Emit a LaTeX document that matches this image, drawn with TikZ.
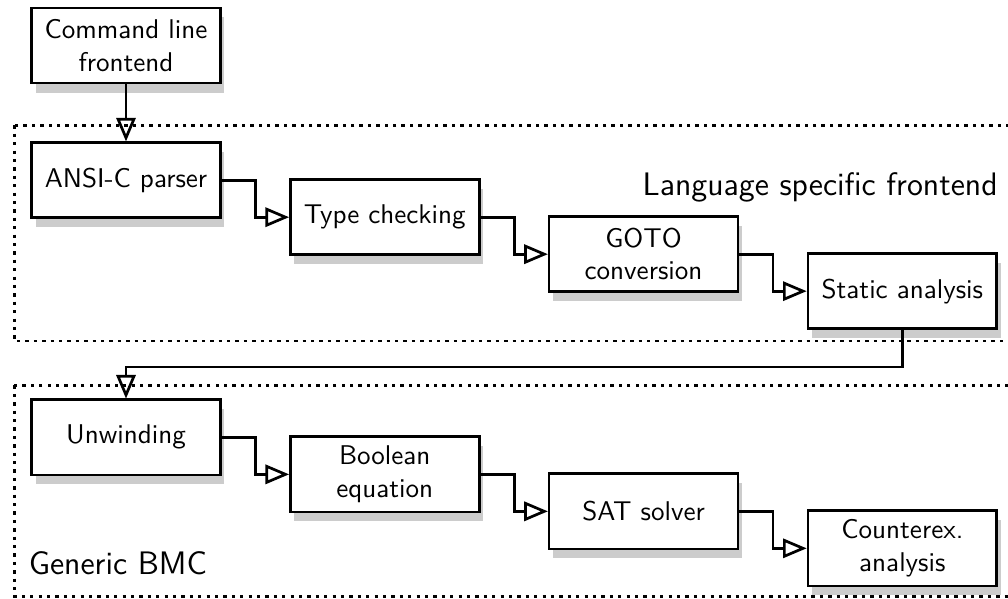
\documentclass[tikz,border=0pt]{standalone}
\usepackage{tikz}
\usetikzlibrary{arrows, positioning, shadows, calc}
\renewcommand{\familydefault}{\sfdefault}

\begin{document}
\begin{tikzpicture}[font=\sffamily]
		\tikzset{node distance=21pt and 24.8pt,
			box/.style={rectangle, draw, line width=1pt, fill=white, align=center,
			drop shadow={shadow xshift=1.5pt, shadow yshift=-3.5pt, fill=black!40, opacity=.5},
			minimum width=69.7pt, minimum height=27.7pt},
			flow/.style={line width=1pt, -open triangle 45},
			group/.style={line width=1pt, dash pattern=on 1.2pt off 1.9pt},
			grouplabel/.style={font=\sffamily\large, inner sep=0pt},
		}
		\node[box](cmd){Command line\\frontend};
		\useasboundingbox ($(cmd.center)+(-46.5pt,16.8pt)$) rectangle ++(372pt,-220.7pt);

		\node[box, below=of cmd](ansi){ANSI-C parser};
		\node[box, right=of ansi, yshift=-13.65pt](type){Type checking};
		\node[box, right=of type, yshift=-13.65pt](goto){GOTO\\conversion};
		\node[box, right=of goto, yshift=-13.65pt](static){Static analysis};

		\node[box, below=66.2pt of ansi](unwind){Unwinding};
		\node[box, right=of unwind, yshift=-13.65pt](bool){Boolean\\equation};
		\node[box, right=of bool, yshift=-13.65pt](sat){SAT solver};
		\node[box, right=of sat, yshift=-13.65pt](cex){Counterex.\\analysis};

		\node[grouplabel, anchor=base east](lsf) at ($(static.north east)+(0,21pt)$){Language specific frontend};
		\node[grouplabel, anchor=base west](bmc) at ($(unwind.south west)+(-0.7pt,-36.2pt)$){Generic BMC};

		\coordinate[below=13.65pt of static.south](c1){};

		\draw[flow](cmd) -- (ansi);
		\draw[flow](ansi.east) -| ($(ansi.east)!0.5!(type.west)$) |- (type.west);
		\draw[flow](type.east) -| ($(type.east)!0.5!(goto.west)$) |- (goto.west);
		\draw[flow](goto.east) -| ($(goto.east)!0.5!(static.west)$) |- (static.west);

		\draw[flow](static) -- (c1) -| (unwind);

		\draw[flow](unwind.east) -| ($(unwind.east)!0.5!(bool.west)$) |- (bool.west);
		\draw[flow](bool.east) -| ($(bool.east)!0.5!(sat.west)$) |- (sat.west);
		\draw[flow](sat.east) -| ($(sat.east)!0.5!(cex.west)$) |- (cex.west);

		\draw[group]($(ansi.north west)+(-5.9pt,5.9pt)$) rectangle ($(static.south east)+(20pt,-4pt)$);
		\draw[group]($(unwind.north west)+(-5.9pt,4.8pt)$) rectangle ($(cex.south east)+(20pt,-3.3pt)$);

	\end{tikzpicture}
\end{document}
